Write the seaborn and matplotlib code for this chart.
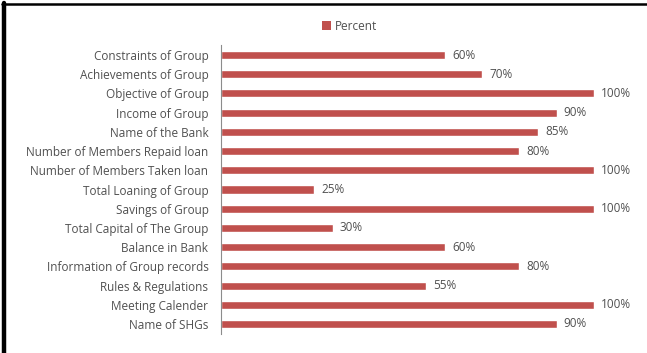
import matplotlib
matplotlib.use("Agg")
import matplotlib.pyplot as plt
import seaborn as sns
import pandas as pd
from matplotlib.lines import Line2D
from matplotlib.patches import Patch

categories = [
    "Constraints of Group",
    "Achievements of Group",
    "Objective of Group",
    "Income of Group",
    "Name of the Bank",
    "Number of Members Repaid loan",
    "Number of Members Taken loan",
    "Total Loaning of Group",
    "Savings of Group",
    "Total Capital of The Group",
    "Balance in Bank",
    "Information of Group records",
    "Rules & Regulations",
    "Meeting Calender",
    "Name of SHGs",
]
percent = [60, 70, 100, 90, 85, 80, 100, 25, 100, 30, 60, 80, 55, 100, 90]
series_name = "Percent"

sns.set_theme(style="white")
plt.rcParams["font.family"] = ["Open Sans", "DejaVu Sans"]

df = pd.DataFrame({"Category": categories, series_name: percent})

fig = plt.figure(figsize=(6.47, 3.53), dpi=100)
ax = fig.add_axes([221 / 647, 1 - 333.6 / 353, 373 / 647, (333.6 - 45.4) / 353])

bar_color = "#C0504D"
text_color = "#505050"
fs = 8.5
sns.barplot(data=df, y="Category", x=series_name, color=bar_color, width=0.42,
            saturation=1, ax=ax, orient="h")

ax.set_xlim(0, 100)
ax.set_ylim(len(categories) - 0.5, -0.5)
ax.set_xlabel("")
ax.set_ylabel("")
ax.set_xticks([])
ax.tick_params(axis="y", length=0, pad=9, labelsize=fs, labelcolor=text_color)
for s in ["top", "right", "bottom"]:
    ax.spines[s].set_visible(False)
ax.spines["left"].set_color("#8c8c8c")
ax.spines["left"].set_linewidth(0.8)

for i, v in enumerate(percent):
    ax.text(v + 1.9, i, f"{v}%", va="center", ha="left", fontsize=fs,
            color=text_color, clip_on=False)

handle = Patch(facecolor=bar_color, edgecolor="none")
fig.legend([handle], [series_name], loc="center", bbox_to_anchor=(350 / 647, 1 - 26 / 353),
           frameon=False, fontsize=fs, labelcolor=text_color, handlelength=0.7,
           handleheight=0.7, handletextpad=0.4)

# outer frame lines (black left and top border)
fig.add_artist(Line2D([4 / 647, 4 / 647], [0, 1 - 3 / 353], color="black", lw=3.2,
                      transform=fig.transFigure))
fig.add_artist(Line2D([2 / 647, 1], [1 - 4 / 353, 1 - 4 / 353], color="black", lw=1.8,
                      transform=fig.transFigure))

fig.savefig("out.png", dpi=100)
